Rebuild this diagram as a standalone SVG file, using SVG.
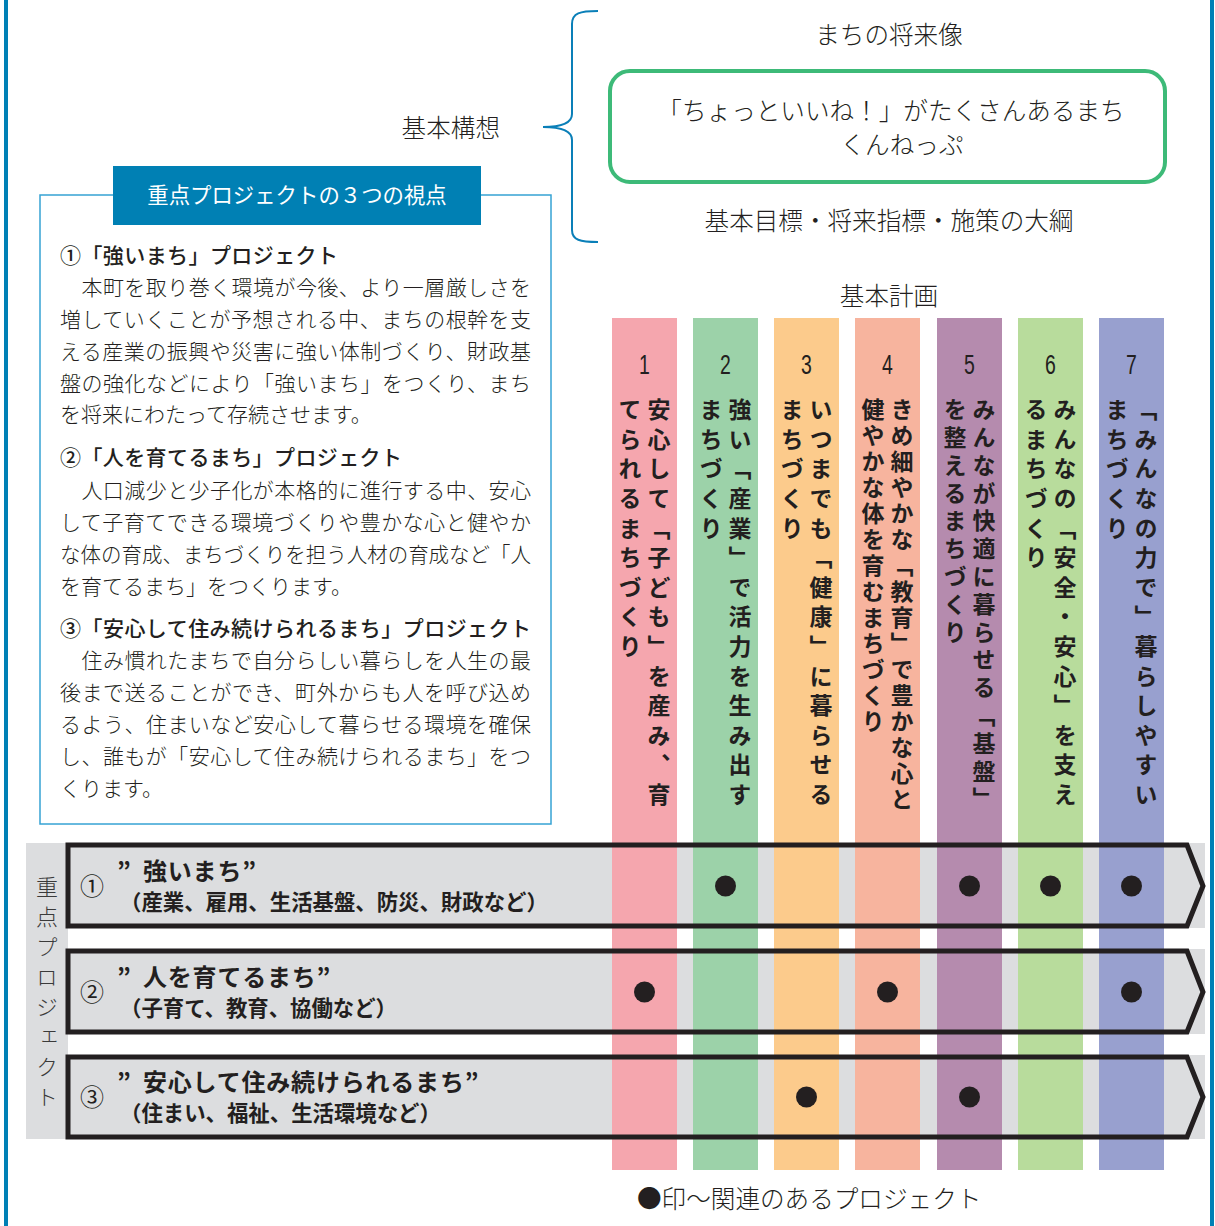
<svg xmlns="http://www.w3.org/2000/svg" width="1215" height="1226" viewBox="0 0 1215 1226">
<style>
text{font-family:"Noto Sans CJK JP","Noto Sans",sans-serif;fill:#231f20}
.t24{font-size:24.6px;font-weight:300}
.body{font-size:21px;font-weight:300}
.head{font-size:21px;font-weight:500}
.num{font-family:"Liberation Sans",sans-serif;font-size:27px}
.vt{font-size:23px;font-weight:700;writing-mode:vertical-rl}
.rowt{font-size:24px;font-weight:700}
.rows{font-size:21.4px;font-weight:700}
.circ{font-size:24px}
.dot{fill:#231f20}
.rowbg{fill:#dcdddf}
.rowline{fill:none;stroke:#231f20;stroke-width:5}
</style>
<rect width="1215" height="1226" fill="#fff"/>
<g id="frame">
<rect x="4" y="0" width="4" height="1226" fill="#0080b5"/>
<rect x="1210" y="0" width="4" height="1226" fill="#0080b5"/>
</g>
<g id="connectors">
<path d="M598,11 C580,11 572,13 572,24 L572,114 C572,123 562,127 543,127 C562,127 572,131 572,140 L572,230 C572,240 580,242 598,242" fill="none" stroke="#0a7fb8" stroke-width="2"/>
</g>
<g id="kihon-kousou"><text class="t24" x="500" y="137" text-anchor="end">基本構想</text></g>
<g id="shourai-zou">
<text class="t24" x="889" y="44" text-anchor="middle">まちの将来像</text>
<rect x="610" y="71" width="555" height="111" rx="20" fill="#fff" stroke="#3dba78" stroke-width="4"/>
<text class="t24" x="891" y="120" text-anchor="middle">「ちょっといいね！」がたくさんあるまち</text>
<text class="t24" x="902" y="154" text-anchor="middle">くんねっぷ</text>
</g>
<g id="taikou"><text class="t24" x="889" y="230" text-anchor="middle">基本目標・将来指標・施策の大綱</text></g>
<g id="kihon-keikaku"><text class="t24" x="889" y="305" text-anchor="middle">基本計画</text></g>
<g id="viewpoints">
<rect x="40" y="195" width="511" height="629" fill="#fff" stroke="#36a3d4" stroke-width="1.5"/>
<rect x="113" y="166" width="368" height="59" fill="#0080b4"/>
<text x="297" y="203" text-anchor="middle" style="font-size:21.4px;fill:#fff">重点プロジェクトの３つの視点</text>
<text class="head" x="60" y="263" textLength="278">①「強いまち」プロジェクト</text>
<text class="body" x="60" y="295" textLength="471">　本町を取り巻く環境が今後、より一層厳しさを</text>
<text class="body" x="60" y="327" textLength="471">増していくことが予想される中、まちの根幹を支</text>
<text class="body" x="60" y="359" textLength="471">える産業の振興や災害に強い体制づくり、財政基</text>
<text class="body" x="60" y="391" textLength="471">盤の強化などにより「強いまち」をつくり、まち</text>
<text class="body" x="60" y="422">を将来にわたって存続させます。</text>
<text class="head" x="60" y="465" textLength="342">②「人を育てるまち」プロジェクト</text>
<text class="body" x="60" y="498" textLength="471">　人口減少と少子化が本格的に進行する中、安心</text>
<text class="body" x="60" y="530" textLength="471">して子育てできる環境づくりや豊かな心と健やか</text>
<text class="body" x="60" y="562" textLength="471" lengthAdjust="spacingAndGlyphs">な体の育成、まちづくりを担う人材の育成など「人</text>
<text class="body" x="60" y="594">を育てるまち」をつくります。</text>
<text class="head" x="60" y="636" textLength="471">③「安心して住み続けられるまち」プロジェクト</text>
<text class="body" x="60" y="668" textLength="471">　住み慣れたまちで自分らしい暮らしを人生の最</text>
<text class="body" x="60" y="700" textLength="471">後まで送ることができ、町外からも人を呼び込め</text>
<text class="body" x="60" y="732" textLength="471">るよう、住まいなど安心して暮らせる環境を確保</text>
<text class="body" x="60" y="764" textLength="471">し、誰もが「安心して住み続けられるまち」をつ</text>
<text class="body" x="60" y="796">くります。</text>
</g>
<g id="row-backgrounds">
<rect class="rowbg" x="26" y="843" width="42" height="296"/>
<rect class="rowbg" x="68" y="843" width="1137" height="85"/>
<rect class="rowbg" x="68" y="949" width="1137" height="85"/>
<rect class="rowbg" x="68" y="1055" width="1137" height="84"/>
</g>
<g id="plan-1"><rect x="612" y="318" width="65" height="852" fill="#f5a6ae"/>
<text class="num" transform="translate(644.5,374) scale(0.72,1)" text-anchor="middle">1</text>
<text class="vt" x="659" y="398" letter-spacing="6.6">安心して「子ども」を産み、育</text>
<text class="vt" x="630" y="398" letter-spacing="6.6">てられるまちづくり</text></g>
<g id="plan-2"><rect x="693" y="318" width="65" height="852" fill="#9cd2a9"/>
<text class="num" transform="translate(725.5,374) scale(0.72,1)" text-anchor="middle">2</text>
<text class="vt" x="740" y="398" letter-spacing="6.6">強い「産業」で活力を生み出す</text>
<text class="vt" x="711" y="398" letter-spacing="6.6">まちづくり</text></g>
<g id="plan-3"><rect x="774" y="318" width="65" height="852" fill="#fccb8c"/>
<text class="num" transform="translate(806.5,374) scale(0.72,1)" text-anchor="middle">3</text>
<text class="vt" x="821" y="398" letter-spacing="6.6">いつまでも「健康」に暮らせる</text>
<text class="vt" x="792" y="398" letter-spacing="6.6">まちづくり</text></g>
<g id="plan-4"><rect x="855" y="318" width="65" height="852" fill="#f7b49e"/>
<text class="num" transform="translate(887.5,374) scale(0.72,1)" text-anchor="middle">4</text>
<text class="vt" x="902" y="398" letter-spacing="3">きめ細やかな「教育」で豊かな心と</text>
<text class="vt" x="873" y="398" letter-spacing="3">健やかな体を育むまちづくり</text></g>
<g id="plan-5"><rect x="937" y="318" width="65" height="852" fill="#b58bae"/>
<text class="num" transform="translate(969.5,374) scale(0.72,1)" text-anchor="middle">5</text>
<text class="vt" x="984" y="398" letter-spacing="4.8">みんなが快適に暮らせる「基盤」</text>
<text class="vt" x="955" y="398" letter-spacing="4.8">を整えるまちづくり</text></g>
<g id="plan-6"><rect x="1018" y="318" width="65" height="852" fill="#b8dc9c"/>
<text class="num" transform="translate(1050.5,374) scale(0.72,1)" text-anchor="middle">6</text>
<text class="vt" x="1065" y="398" letter-spacing="6.6">みんなの「安全・安心」を支え</text>
<text class="vt" x="1036" y="398" letter-spacing="6.6">るまちづくり</text></g>
<g id="plan-7"><rect x="1099" y="318" width="65" height="852" fill="#98a0cf"/>
<text class="num" transform="translate(1131.5,374) scale(0.72,1)" text-anchor="middle">7</text>
<text class="vt" x="1146" y="398" letter-spacing="6.6">「みんなの力で」暮らしやすい</text>
<text class="vt" x="1117" y="398" letter-spacing="6.6">まちづくり</text></g>
<g id="project-label"><text x="47" y="876" style="font-size:22px;font-weight:300;writing-mode:vertical-rl;fill:#3a3a3a" letter-spacing="8">重点プロジェクト</text></g>
<g id="project-1">
<path class="rowline" d="M68,845 H1187 L1203,886 L1187,926 H68 Z"/>
<text class="circ" x="80" y="895">①</text>
<text class="rowt" x="117" y="880">” <tspan x="143" letter-spacing="0.8">強いまち”</tspan></text>
<text class="rows" x="120" y="910">（産業、雇用、生活基盤、防災、財政など）</text>
<circle class="dot" cx="725.5" cy="886" r="10.5"/><circle class="dot" cx="969.5" cy="886" r="10.5"/><circle class="dot" cx="1050.5" cy="886" r="10.5"/><circle class="dot" cx="1131.5" cy="886" r="10.5"/>
</g>
<g id="project-2">
<path class="rowline" d="M68,951 H1187 L1203,992 L1187,1032 H68 Z"/>
<text class="circ" x="80" y="1001">②</text>
<text class="rowt" x="117" y="986">” <tspan x="143" letter-spacing="0.8">人を育てるまち”</tspan></text>
<text class="rows" x="120" y="1016">（子育て、教育、協働など）</text>
<circle class="dot" cx="644.5" cy="992" r="10.5"/><circle class="dot" cx="887.5" cy="992" r="10.5"/><circle class="dot" cx="1131.5" cy="992" r="10.5"/>
</g>
<g id="project-3">
<path class="rowline" d="M68,1057 H1187 L1203,1097 L1187,1137 H68 Z"/>
<text class="circ" x="80" y="1106">③</text>
<text class="rowt" x="117" y="1091">” <tspan x="143" letter-spacing="0.8">安心して住み続けられるまち”</tspan></text>
<text class="rows" x="120" y="1121">（住まい、福祉、生活環境など）</text>
<circle class="dot" cx="806.5" cy="1097" r="10.5"/><circle class="dot" cx="969.5" cy="1097" r="10.5"/>
</g>
<g id="legend"><text class="t24" x="637" y="1208">●印～関連のあるプロジェクト</text></g>
</svg>
